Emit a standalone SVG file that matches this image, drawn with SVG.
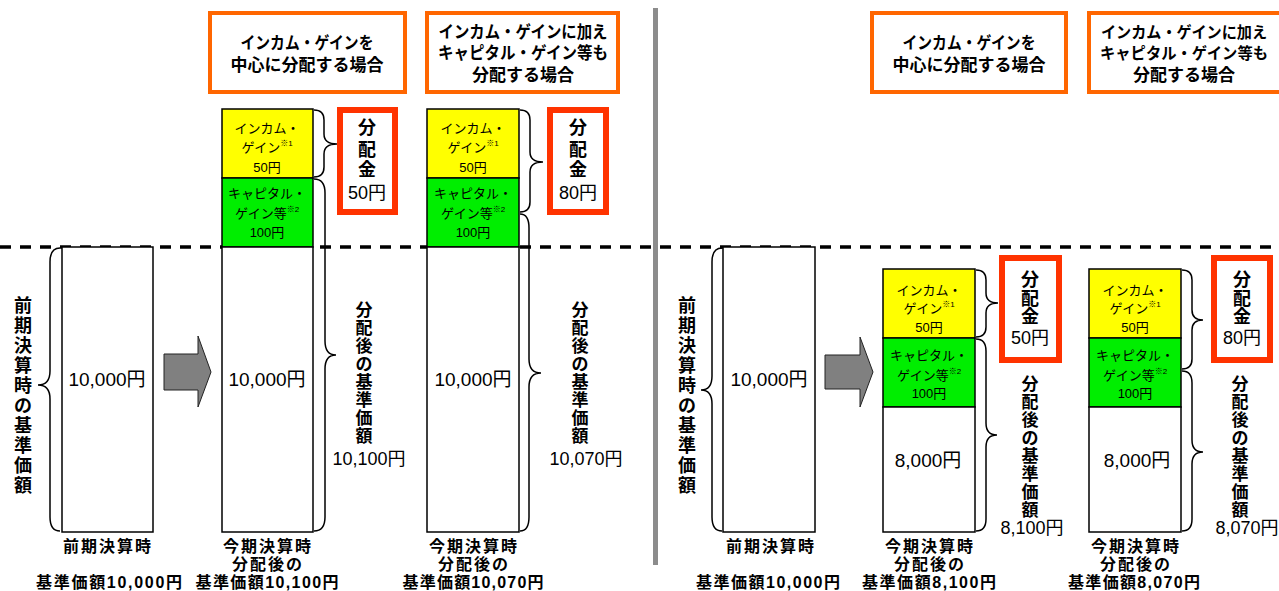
<svg xmlns="http://www.w3.org/2000/svg" width="1279" height="591" viewBox="0 0 1279 591">
<style>
.t{font-family:"Liberation Sans","Noto Sans CJK JP",sans-serif;text-anchor:middle;dominant-baseline:central;fill:#000}
.b{font-weight:bold}
.hdr{fill:#fff;stroke:#FF6600;stroke-width:4}
.red{fill:#fff;stroke:#FF3300;stroke-width:6}
.col{stroke:#000;stroke-width:1.5}
.w{fill:#fff}.y{fill:#FFFF00}.g{fill:#00EE00}
.br{fill:none;stroke:#000;stroke-width:1.5}
.arr{fill:#808080;stroke:#222;stroke-width:1}
.s13{font-size:13px}.s16{font-size:16px}.s17{font-size:17px}.s18{font-size:18px}.s19{font-size:19px}
.sup{font-size:8px}
</style>
<rect width="1279" height="591" fill="#fff"/>
<line x1="0" y1="247" x2="1279" y2="247" stroke="#000" stroke-width="3.5" stroke-dasharray="11 9"/>
<rect x="653" y="8" width="5" height="557" fill="#8c8c8c"/>

<g id="hdr-l1"><rect class="hdr" x="210" y="13" width="195" height="79"/>
<text class="t b s17" x="307" y="43" textLength="133" lengthAdjust="spacingAndGlyphs">インカム・ゲインを</text>
<text class="t b s17" x="307" y="65">中心に分配する場合</text></g>
<g id="hdr-l2"><rect class="hdr" x="427" y="13" width="191" height="79"/>
<text class="t b s17" x="523" y="32" textLength="169" lengthAdjust="spacingAndGlyphs">インカム・ゲインに加え</text>
<text class="t b s17" x="523" y="53" textLength="170" lengthAdjust="spacingAndGlyphs">キャピタル・ゲイン等も</text>
<text class="t b s17" x="523" y="75">分配する場合</text></g>
<g id="hdr-r1"><rect class="hdr" x="872" y="13" width="194" height="79"/>
<text class="t b s17" x="969" y="43" textLength="133" lengthAdjust="spacingAndGlyphs">インカム・ゲインを</text>
<text class="t b s17" x="969" y="65">中心に分配する場合</text></g>
<g id="hdr-r2"><path d="M1279,13 H1089 V92 H1279" fill="#fff" stroke="#FF6600" stroke-width="4"/>
<text class="t b s16" x="1184" y="32" textLength="166" lengthAdjust="spacingAndGlyphs">インカム・ゲインに加え</text>
<text class="t b s16" x="1184" y="53" textLength="168" lengthAdjust="spacingAndGlyphs">キャピタル・ゲイン等も</text>
<text class="t b s17" x="1184" y="75">分配する場合</text></g>

<!-- left half -->
<g id="l-col1"><rect class="col w" x="62" y="247" width="91" height="285"/>
<text class="t s19" x="107" y="379">10,000円</text>
<text class="t b s16" x="107" y="546" textLength="88">前期決算時</text>
<text class="t b s16" x="109" y="582" textLength="146">基準価額10,000円</text></g>
<g id="l-label1"><text class="t b s18"><tspan x="23" y="306">前</tspan><tspan x="23" y="326">期</tspan><tspan x="23" y="346">決</tspan><tspan x="23" y="366">算</tspan><tspan x="23" y="386">時</tspan><tspan x="23" y="406">の</tspan><tspan x="23" y="426">基</tspan><tspan x="23" y="446">準</tspan><tspan x="23" y="466">価</tspan><tspan x="23" y="486">額</tspan></text></g>
<g id="l-arrow"><polygon class="arr" points="164,354 198,354 198,336 211,372 198,407 198,390 164,390"/></g>

<g id="l-col2"><rect class="col y" x="222" y="109" width="91" height="69"/>
<rect class="col g" x="222" y="178" width="91" height="69"/>
<rect class="col w" x="222" y="247" width="91" height="285"/>
<text class="t s13" x="267" y="128">インカム・</text>
<text class="t s13" x="267" y="147">ゲイン<tspan class="sup" dy="-4">※1</tspan></text>
<text class="t s13" x="267" y="167">50円</text>
<text class="t s13" x="267" y="193">キャピタル・</text>
<text class="t s13" x="267" y="213">ゲイン等<tspan class="sup" dy="-4">※2</tspan></text>
<text class="t s13" x="267" y="232">100円</text>
<text class="t s19" x="267" y="379">10,000円</text>
<text class="t b s16" x="267" y="546" textLength="88">今期決算時</text>
<text class="t b s16" x="267" y="564" textLength="70">分配後の</text>
<text class="t b s16" x="267" y="582" textLength="143">基準価額10,100円</text></g>
<g id="l-dist1"><rect class="red" x="340" y="110" width="55" height="102"/>
<text class="t b s18" x="367" y="128">分</text><text class="t b s18" x="367" y="150">配</text><text class="t b s18" x="367" y="170">金</text>
<text class="t s18" x="367" y="193">50円</text></g>
<g id="l-nav1"><text class="t b s17"><tspan x="364" y="310">分</tspan><tspan x="364" y="328">配</tspan><tspan x="364" y="346">後</tspan><tspan x="364" y="364">の</tspan><tspan x="364" y="382">基</tspan><tspan x="364" y="400">準</tspan><tspan x="364" y="418">価</tspan><tspan x="364" y="436">額</tspan></text>
<text class="t s18" x="369" y="459">10,100円</text></g>

<g id="l-col3"><rect class="col y" x="427" y="109" width="92" height="69"/>
<rect class="col g" x="427" y="178" width="92" height="69"/>
<rect class="col w" x="427" y="247" width="92" height="285"/>
<text class="t s13" x="473" y="128">インカム・</text>
<text class="t s13" x="473" y="147">ゲイン<tspan class="sup" dy="-4">※1</tspan></text>
<text class="t s13" x="473" y="167">50円</text>
<text class="t s13" x="473" y="193">キャピタル・</text>
<text class="t s13" x="473" y="213">ゲイン等<tspan class="sup" dy="-4">※2</tspan></text>
<text class="t s13" x="473" y="232">100円</text>
<text class="t s19" x="473" y="379">10,000円</text>
<text class="t b s16" x="473" y="546" textLength="88">今期決算時</text>
<text class="t b s16" x="473" y="564" textLength="70">分配後の</text>
<text class="t b s16" x="473" y="582" textLength="141">基準価額10,070円</text></g>
<g id="l-dist2"><rect class="red" x="550" y="110" width="56" height="102"/>
<text class="t b s18" x="578" y="128">分</text><text class="t b s18" x="578" y="150">配</text><text class="t b s18" x="578" y="170">金</text>
<text class="t s18" x="578" y="193">80円</text></g>
<g id="l-nav2"><text class="t b s17"><tspan x="580" y="310">分</tspan><tspan x="580" y="328">配</tspan><tspan x="580" y="346">後</tspan><tspan x="580" y="364">の</tspan><tspan x="580" y="382">基</tspan><tspan x="580" y="400">準</tspan><tspan x="580" y="418">価</tspan><tspan x="580" y="436">額</tspan></text>
<text class="t s18" x="586" y="459">10,070円</text></g>

<!-- right half -->
<g id="r-col1"><rect class="col w" x="723" y="247" width="92" height="285"/>
<text class="t s19" x="769" y="379">10,000円</text>
<text class="t b s16" x="770" y="546" textLength="88">前期決算時</text>
<text class="t b s16" x="768" y="582" textLength="144">基準価額10,000円</text></g>
<g id="r-label1"><text class="t b s18"><tspan x="687" y="306">前</tspan><tspan x="687" y="326">期</tspan><tspan x="687" y="346">決</tspan><tspan x="687" y="366">算</tspan><tspan x="687" y="386">時</tspan><tspan x="687" y="406">の</tspan><tspan x="687" y="426">基</tspan><tspan x="687" y="446">準</tspan><tspan x="687" y="466">価</tspan><tspan x="687" y="486">額</tspan></text></g>
<g id="r-arrow"><polygon class="arr" points="825,355 860,355 860,337 873,372 860,407 860,389 825,389"/></g>

<g id="r-col2"><rect class="col y" x="883" y="269" width="92" height="69"/>
<rect class="col g" x="883" y="338" width="92" height="69"/>
<rect class="col w" x="883" y="407" width="92" height="125"/>
<text class="t s13" x="929" y="290">インカム・</text>
<text class="t s13" x="929" y="308">ゲイン<tspan class="sup" dy="-4">※1</tspan></text>
<text class="t s13" x="929" y="327">50円</text>
<text class="t s13" x="929" y="355">キャピタル・</text>
<text class="t s13" x="929" y="375">ゲイン等<tspan class="sup" dy="-4">※2</tspan></text>
<text class="t s13" x="929" y="393">100円</text>
<text class="t s19" x="928" y="460">8,000円</text>
<text class="t b s16" x="929" y="546" textLength="88">今期決算時</text>
<text class="t b s16" x="929" y="564" textLength="70">分配後の</text>
<text class="t b s16" x="929" y="582" textLength="134">基準価額8,100円</text></g>
<g id="r-dist1"><rect class="red" x="1002" y="258" width="57" height="102"/>
<text class="t b s18" x="1030" y="280">分</text><text class="t b s18" x="1030" y="299">配</text><text class="t b s18" x="1030" y="317">金</text>
<text class="t s18" x="1030" y="338">50円</text></g>
<g id="r-nav1"><text class="t b s17"><tspan x="1030" y="384">分</tspan><tspan x="1030" y="402">配</tspan><tspan x="1030" y="420">後</tspan><tspan x="1030" y="438">の</tspan><tspan x="1030" y="456">基</tspan><tspan x="1030" y="474">準</tspan><tspan x="1030" y="492">価</tspan><tspan x="1030" y="510">額</tspan></text>
<text class="t s18" x="1032" y="528">8,100円</text></g>

<g id="r-col3"><rect class="col y" x="1089" y="269" width="92" height="69"/>
<rect class="col g" x="1089" y="338" width="92" height="69"/>
<rect class="col w" x="1089" y="407" width="92" height="125"/>
<text class="t s13" x="1135" y="290">インカム・</text>
<text class="t s13" x="1135" y="308">ゲイン<tspan class="sup" dy="-4">※1</tspan></text>
<text class="t s13" x="1135" y="327">50円</text>
<text class="t s13" x="1135" y="355">キャピタル・</text>
<text class="t s13" x="1135" y="375">ゲイン等<tspan class="sup" dy="-4">※2</tspan></text>
<text class="t s13" x="1135" y="393">100円</text>
<text class="t s19" x="1137" y="460">8,000円</text>
<text class="t b s16" x="1135" y="546" textLength="88">今期決算時</text>
<text class="t b s16" x="1135" y="564" textLength="70">分配後の</text>
<text class="t b s16" x="1134" y="582" textLength="132">基準価額8,070円</text></g>
<g id="r-dist2"><rect class="red" x="1214" y="258" width="56" height="102"/>
<text class="t b s18" x="1242" y="280">分</text><text class="t b s18" x="1242" y="299">配</text><text class="t b s18" x="1242" y="317">金</text>
<text class="t s18" x="1242" y="338">80円</text></g>
<g id="r-nav2"><text class="t b s17"><tspan x="1240" y="384">分</tspan><tspan x="1240" y="402">配</tspan><tspan x="1240" y="420">後</tspan><tspan x="1240" y="438">の</tspan><tspan x="1240" y="456">基</tspan><tspan x="1240" y="474">準</tspan><tspan x="1240" y="492">価</tspan><tspan x="1240" y="510">額</tspan></text>
<text class="t s18" x="1247" y="528">8,070円</text></g>

<g id="connectors">
<path class="br" d="M60,248 Q50,248 50,262 L50,371 Q50,385 38,385 Q50,385 50,399 L50,517 Q50,531 60,531"/>
<path class="br" d="M722,248 Q712,248 712,262 L712,376 Q712,390 701,390 Q712,390 712,404 L712,517 Q712,531 722,531"/>
<path class="br" d="M314,110 Q324,110 324,120 L324,134 Q324,144 337,144 Q324,144 324,154 L324,167 Q324,177 314,177"/>
<path class="br" d="M314,179 Q325,179 325,193 L325,341 Q325,355 336,355 Q325,355 325,369 L325,517 Q325,531 314,531"/>
<path class="br" d="M520,110 Q530,110 530,120 L530,152 Q530,162 543,162 Q530,162 530,172 L530,202 Q530,212 520,212"/>
<path class="br" d="M520,214 Q529,214 529,228 L529,359 Q529,373 541,373 Q529,373 529,387 L529,517 Q529,531 520,531"/>
<path class="br" d="M976,270 Q986,270 986,280 L986,293 Q986,303 998,303 Q986,303 986,313 L986,327 Q986,337 976,337"/>
<path class="br" d="M976,339 Q986,339 986,351 L986,423 Q986,435 997,435 Q986,435 986,447 L986,519 Q986,531 976,531"/>
<path class="br" d="M1182,270 Q1192,270 1192,280 L1192,310 Q1192,320 1203,320 Q1192,320 1192,330 L1192,359 Q1192,369 1182,369"/>
<path class="br" d="M1182,371 Q1192,371 1192,383 L1192,440 Q1192,452 1203,452 Q1192,452 1192,464 L1192,519 Q1192,531 1182,531"/>
</g>
</svg>
